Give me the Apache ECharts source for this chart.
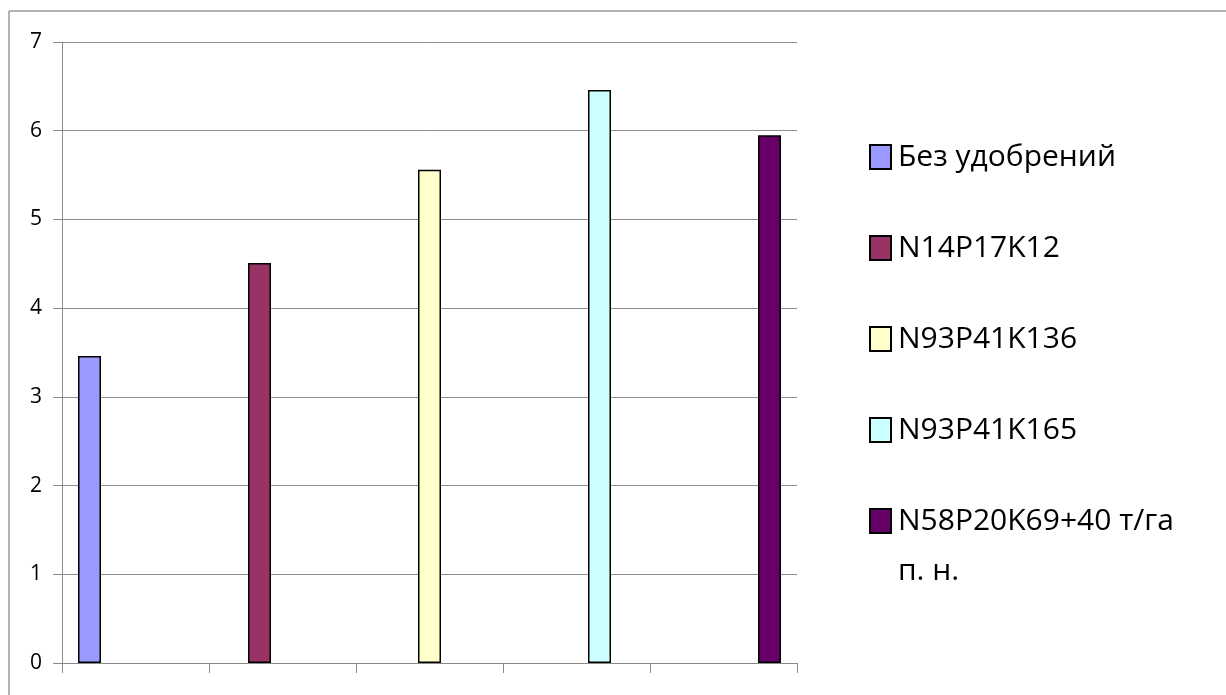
<!DOCTYPE html>
<html>
<head>
<meta charset="utf-8">
<style>
  html, body { margin: 0; padding: 0; background: #ffffff; }
  #chart { width: 1226px; height: 695px; }
</style>
<script src="https://cdn.jsdelivr.net/npm/echarts@6/dist/echarts.min.js"></script>
</head>
<body>
<div id="chart"></div>
<script>
// Fertilizer variants (one bar per variant) and their yields
const categories = ['1', '2', '3', '4', '5'];
const seriesNames = [
  'Без удобрений',
  'N14P17K12',
  'N93P41K136',
  'N93P41K165',
  'N58P20K69+40 т/га п. н.'
];
const seriesValues = [3.46, 4.51, 5.56, 6.46, 5.95];
const seriesColors = ['#9999FF', '#993366', '#FFFFCC', '#CCFFFF', '#660066'];
const yTicks = [0, 1, 2, 3, 4, 5, 6, 7];

const FONT = '"Open Sans", "Noto Sans", sans-serif';
const LEGEND_MAX_CHARS = 17;
const LEGEND_LINE = 50;

// word wrap for long legend names
function wrapName(name) {
  const words = name.split(' ');
  const lines = [];
  let cur = '';
  words.forEach(w => {
    const next = cur ? cur + ' ' + w : w;
    if (next.length > LEGEND_MAX_CHARS && cur) {
      lines.push(cur);
      cur = w;
    } else {
      cur = next;
    }
  });
  if (cur) lines.push(cur);
  return lines.join('\n');
}

const chart = echarts.init(document.getElementById('chart'), null, { renderer: 'canvas' });

// each variant sits in its own category slot; the other slots stay empty
const series = seriesNames.map((name, i) => ({
  name: name,
  type: 'bar',
  barWidth: 23,
  barGap: '0%',
  data: categories.map((c, j) => (j === i ? seriesValues[i] : null)),
  itemStyle: { color: seriesColors[i], borderColor: '#000000', borderWidth: 1.5 },
  emphasis: { disabled: true },
  animation: false
}));

const shortNames = seriesNames.filter(n => wrapName(n).indexOf('\n') < 0);
const longNames = seriesNames.filter(n => wrapName(n).indexOf('\n') >= 0);

const legendBase = {
  orient: 'vertical',
  left: 869,
  padding: 0,
  itemWidth: 21,
  itemHeight: 24,
  itemGap: 61,
  icon: 'rect',
  selectedMode: false,
  formatter: wrapName,
  textStyle: { color: '#000000', fontFamily: FONT, fontSize: 30, padding: [0, 0, 0, 2] }
};

chart.setOption({
  backgroundColor: '#ffffff',
  animation: false,
  grid: { left: 62, right: 429, top: 42, bottom: 32, containLabel: false },
  xAxis: {
    type: 'category',
    data: categories,
    boundaryGap: true,
    axisLine: { show: true, lineStyle: { color: '#8a8a8a', width: 1 } },
    axisTick: { show: true, length: 10, interval: 0, alignWithLabel: false, lineStyle: { color: '#8a8a8a' } },
    axisLabel: { show: false },
    splitLine: { show: false }
  },
  yAxis: {
    type: 'value',
    min: yTicks[0],
    max: yTicks[yTicks.length - 1],
    interval: 1,
    axisLine: { show: true, lineStyle: { color: '#8a8a8a', width: 1 } },
    axisTick: { show: true, length: 9, lineStyle: { color: '#8a8a8a' } },
    axisLabel: { color: '#000000', fontFamily: FONT, fontSize: 21, margin: 20 },
    splitLine: { show: true, lineStyle: { color: '#8e8e8e', width: 1 } }
  },
  legend: [
    Object.assign({}, legendBase, { top: 142, data: shortNames }),
    // wrapped entry: a blank leading line keeps the first text line level with the swatch
    Object.assign({}, legendBase, {
      top: 446,
      data: longNames,
      formatter: name => '\n' + wrapName(name),
      textStyle: Object.assign({}, legendBase.textStyle, { lineHeight: LEGEND_LINE })
    })
  ],
  graphic: [
    // chart area frame: top and left edges
    { type: 'line', silent: true, shape: { x1: 9, y1: 11, x2: 1226, y2: 11 }, style: { stroke: '#9a9a9a', lineWidth: 1.5 } },
    { type: 'line', silent: true, shape: { x1: 9, y1: 11, x2: 9, y2: 695 }, style: { stroke: '#9a9a9a', lineWidth: 1.5 } }
  ],
  series: series
});
</script>
</body>
</html>
